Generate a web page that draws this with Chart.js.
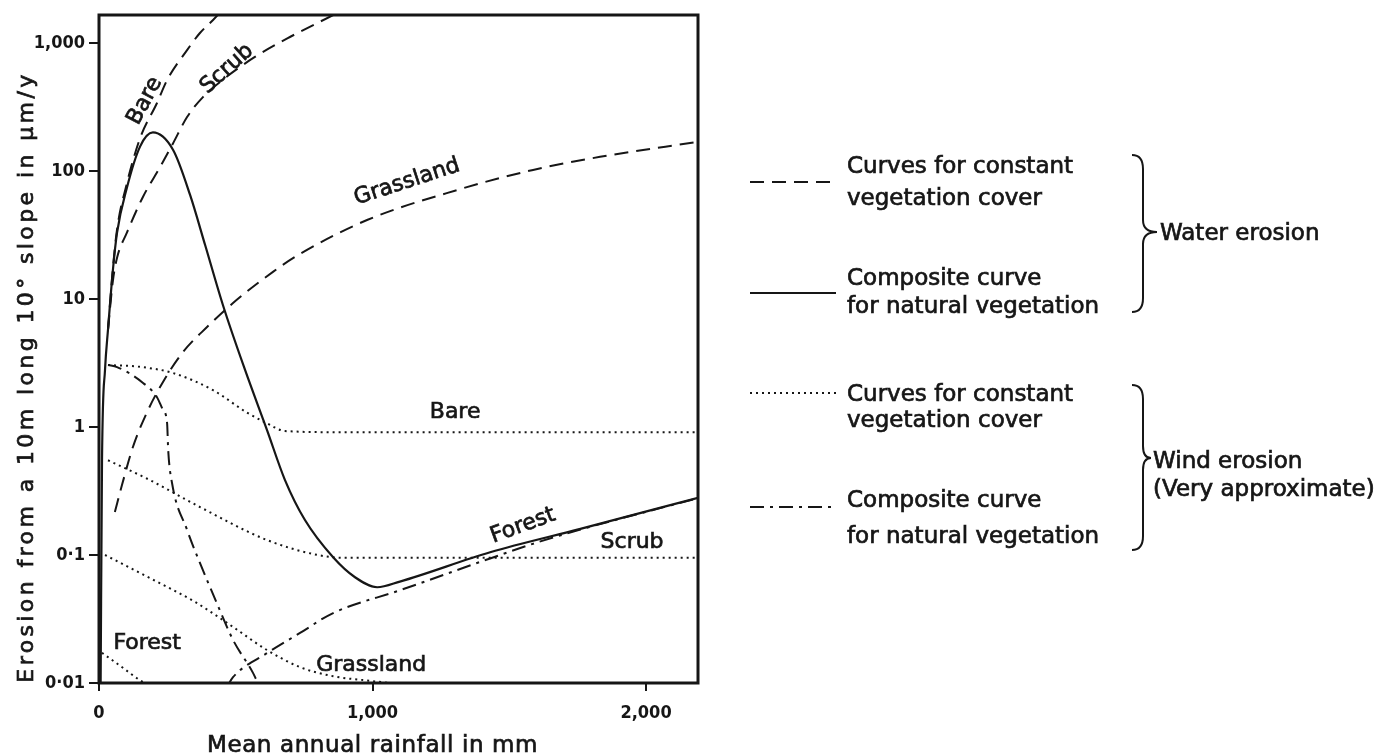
<!DOCTYPE html>
<html>
<head>
<meta charset="utf-8">
<script src="https://cdn.jsdelivr.net/npm/chart.js@4"></script>
<style>
  body { margin: 0; background: #fff; }
  canvas { display: block; }
</style>
</head>
<body>
<canvas id="erosion" width="1391" height="755"></canvas>
<script>
// mean annual rainfall (mm) against erosion (µm/y)

// water erosion, composite curve for natural vegetation (solid)
var waterCompositeX = [6, 11, 22, 33, 51, 66, 102, 150, 197, 271, 333, 388, 453, 534, 614, 680, 753, 856, 936, 1017, 1100, 1430, 1760, 2190];
var waterCompositeY = [0.01, 0.55, 2.8, 5.8, 17, 33, 74, 155, 200, 146, 65, 26.4, 8.98, 2.79, 0.95, 0.385, 0.1875, 0.096, 0.067, 0.056, 0.062, 0.105, 0.16, 0.28];

// water erosion, constant vegetation cover (dashed)
var waterBareX = [33, 51, 66, 102, 150, 212, 249, 322, 369, 417, 470];
var waterBareY = [5.8, 17.5, 35, 80, 180, 340, 514, 881, 1197, 1514, 2000];
var waterScrubX = [33, 51, 66, 102, 161, 223, 271, 322, 380, 461, 570, 698, 856, 1027];
var waterScrubY = [5.8, 14, 21, 33, 63, 107, 165, 264, 378, 533, 778, 1114, 1655, 2600];
var waterGrassX = [58, 84, 124, 176, 234, 307, 395, 490, 636, 735, 980, 1309, 1587, 1832, 2190];
var waterGrassY = [0.217, 0.352, 0.698, 1.31, 2.25, 3.85, 6.04, 9.3, 16.3, 22.5, 41.4, 71, 102, 129, 169];
var waterForestX = [470, 490, 614, 735, 856, 1100, 1430, 1600, 1760, 2190];
var waterForestY = [0.0095, 0.0111, 0.0171, 0.0246, 0.0352, 0.053, 0.094, 0.125, 0.158, 0.278];

// wind erosion, constant vegetation cover (dotted)
var windBareX = [33, 150, 271, 417, 540, 614, 680, 900, 2190];
var windBareY = [3.05, 2.95, 2.64, 1.94, 1.3, 1.07, 0.93, 0.91, 0.91];
var windScrubX = [33, 186, 369, 614, 800, 900, 2190];
var windScrubY = [0.55, 0.385, 0.237, 0.131, 0.1, 0.095, 0.095];
var windGrassX = [22, 186, 351, 490, 614, 735, 856, 991, 1100];
var windGrassY = [0.1, 0.066, 0.043, 0.0274, 0.0181, 0.0133, 0.0113, 0.0104, 0.0098];
var windForestX = [11, 80, 150, 175];
var windForestY = [0.0172, 0.0135, 0.0105, 0.0098];

// wind erosion, composite curve for natural vegetation (dash-dot)
var windCompositeX = [33, 66, 161, 212, 234, 249, 253, 267, 322, 369, 431, 490, 563, 581, 600];
var windCompositeY = [3.05, 2.94, 2.21, 1.71, 1.36, 1.07, 0.66, 0.365, 0.157, 0.0866, 0.042, 0.0217, 0.012, 0.01, 0.0085];

var xTickValues = [0, 1000, 2000];
var xTickLabels = ['0', '1,000', '2,000'];
var yTickValues = [0.01, 0.1, 1, 10, 100, 1000];
var yTickLabels = ['0·01', '0·1', '1', '10', '100', '1,000'];

var INK = '#161616';
var FONT = '"DejaVu Sans", sans-serif';
var DASH = [14, 8], DOT = [2, 4], DASHDOT = [14, 6, 3, 6];

function pts(xs, ys) {
  return xs.map(function (x, i) { return { x: x, y: ys[i] }; });
}

function curve(label, xs, ys, dash, width) {
  return {
    label: label,
    data: pts(xs, ys),
    borderColor: INK,
    borderWidth: width || 2,
    borderDash: dash,
    pointRadius: 0,
    fill: false,
    cubicInterpolationMode: 'monotone'
  };
}

// labels written along the curves (in data units)
var curveLabels = [
  { text: 'Bare', x: 168, y: 352, angle: -62 },
  { text: 'Scrub', x: 468, y: 627, angle: -42 },
  { text: 'Grassland', x: 1126, y: 82, angle: -18 },
  { text: 'Bare', x: 1302, y: 1.31, angle: 0 },
  { text: 'Forest', x: 1550, y: 0.169, angle: -20 },
  { text: 'Scrub', x: 1949, y: 0.126, angle: 0 },
  { text: 'Forest', x: 176, y: 0.0205, angle: 0 },
  { text: 'Grassland', x: 995, y: 0.0138, angle: 0 }
];

function write(ctx, s, x, y, size, opts) {
  opts = opts || {};
  ctx.save();
  ctx.translate(x, y);
  if (opts.angle) ctx.rotate(opts.angle * Math.PI / 180);
  ctx.font = size + 'px ' + FONT;
  ctx.fillStyle = INK;
  ctx.strokeStyle = INK;
  ctx.lineWidth = 0.7;
  ctx.textAlign = opts.align || 'left';
  ctx.textBaseline = opts.baseline || 'alphabetic';
  if (opts.spacing) ctx.letterSpacing = opts.spacing + 'px';
  ctx.fillText(s, 0, 0);
  ctx.strokeText(s, 0, 0);
  ctx.restore();
}

function brace(ctx, x, top, tip, tipY, bottom) {
  var v = x + 11;
  ctx.beginPath();
  ctx.moveTo(x, top);
  ctx.quadraticCurveTo(v, top, v, top + 14);
  ctx.lineTo(v, tipY - 12);
  ctx.quadraticCurveTo(v, tipY, tip, tipY);
  ctx.quadraticCurveTo(v, tipY, v, tipY + 12);
  ctx.lineTo(v, bottom - 14);
  ctx.quadraticCurveTo(v, bottom, x, bottom);
  ctx.stroke();
}

var decor = {
  id: 'decor',
  afterDraw: function (chart) {
    var ctx = chart.ctx, a = chart.chartArea;
    var sx = chart.scales.x, sy = chart.scales.y;
    ctx.save();
    ctx.strokeStyle = INK;
    ctx.lineWidth = 3;
    ctx.strokeRect(a.left, a.top, a.right - a.left, a.bottom - a.top);

    curveLabels.forEach(function (l) {
      write(ctx, l.text, sx.getPixelForValue(l.x), sy.getPixelForValue(l.y), 22,
        { angle: l.angle, align: 'center', baseline: 'middle' });
    });

    // axis titles
    write(ctx, 'Mean annual rainfall in mm', sx.getPixelForValue(1000), 752, 23,
      { align: 'center', spacing: 0.6 });
    write(ctx, 'Erosion from a 10m long 10° slope in µm/y', 33, 377, 22,
      { angle: -90, align: 'center', spacing: 3.4 });

    // key
    var rows = [
      { dash: DASH, ly: 182, text: ['Curves for constant', 'vegetation cover'], by: [173, 205] },
      { dash: [], ly: 293, text: ['Composite curve', 'for natural vegetation'], by: [285, 313] },
      { dash: DOT, ly: 393, text: ['Curves for constant', 'vegetation cover'], by: [401, 427] },
      { dash: DASHDOT, ly: 507, text: ['Composite curve', 'for natural vegetation'], by: [507, 543] }
    ];
    rows.forEach(function (r) {
      ctx.save();
      ctx.strokeStyle = INK;
      ctx.lineWidth = 2;
      ctx.setLineDash(r.dash);
      ctx.beginPath();
      ctx.moveTo(750, r.ly);
      ctx.lineTo(836, r.ly);
      ctx.stroke();
      ctx.restore();
      write(ctx, r.text[0], 847, r.by[0], 23);
      write(ctx, r.text[1], 847, r.by[1], 23);
    });

    ctx.lineWidth = 2;
    ctx.setLineDash([]);
    brace(ctx, 1132, 155, 1157, 232, 312);
    brace(ctx, 1132, 385, 1151, 458, 550);
    write(ctx, 'Water erosion', 1160, 240, 23);
    write(ctx, 'Wind erosion', 1153, 468, 23);
    write(ctx, '(Very approximate)', 1153, 496, 23);
    ctx.restore();
  }
};

var tickFont = { family: '"DejaVu Sans Condensed", "DejaVu Sans", sans-serif', size: 18, weight: 'bold' };

new Chart(document.getElementById('erosion'), {
  type: 'line',
  data: {
    datasets: [
      curve('Water erosion, natural vegetation', waterCompositeX, waterCompositeY, [], 2.2),
      curve('Water erosion, bare', waterBareX, waterBareY, DASH),
      curve('Water erosion, scrub', waterScrubX, waterScrubY, DASH),
      curve('Water erosion, grassland', waterGrassX, waterGrassY, DASH),
      curve('Forest', waterForestX, waterForestY, DASHDOT),
      curve('Wind erosion, bare', windBareX, windBareY, DOT),
      curve('Wind erosion, scrub', windScrubX, windScrubY, DOT),
      curve('Wind erosion, grassland', windGrassX, windGrassY, DOT),
      curve('Wind erosion, forest', windForestX, windForestY, DOT),
      curve('Wind erosion, natural vegetation', windCompositeX, windCompositeY, DASHDOT)
    ]
  },
  options: {
    responsive: false,
    animation: false,
    layout: { padding: { left: 0, top: 15, right: 693, bottom: 0 } },
    plugins: { legend: { display: false }, tooltip: { enabled: false } },
    scales: {
      x: {
        type: 'linear',
        min: 0,
        max: 2190,
        afterBuildTicks: function (s) { s.ticks = xTickValues.map(function (v) { return { value: v }; }); },
        afterFit: function (s) { s.height = 72; },
        grid: { drawOnChartArea: false, tickLength: 8, color: INK, lineWidth: 2 },
        border: { display: false },
        ticks: {
          color: INK, font: tickFont, padding: 12, maxRotation: 0,
          callback: function (v) { return xTickLabels[xTickValues.indexOf(v)]; }
        }
      },
      y: {
        type: 'logarithmic',
        min: 0.01,
        max: 1655,
        afterBuildTicks: function (s) { s.ticks = yTickValues.map(function (v) { return { value: v }; }); },
        afterFit: function (s) { s.width = 99; },
        grid: { drawOnChartArea: false, tickLength: 10, color: INK, lineWidth: 2 },
        border: { display: false },
        ticks: {
          color: INK, font: tickFont, padding: 4,
          callback: function (v) { return yTickLabels[yTickValues.indexOf(v)]; }
        }
      }
    }
  },
  plugins: [decor]
});
</script>
</body>
</html>
